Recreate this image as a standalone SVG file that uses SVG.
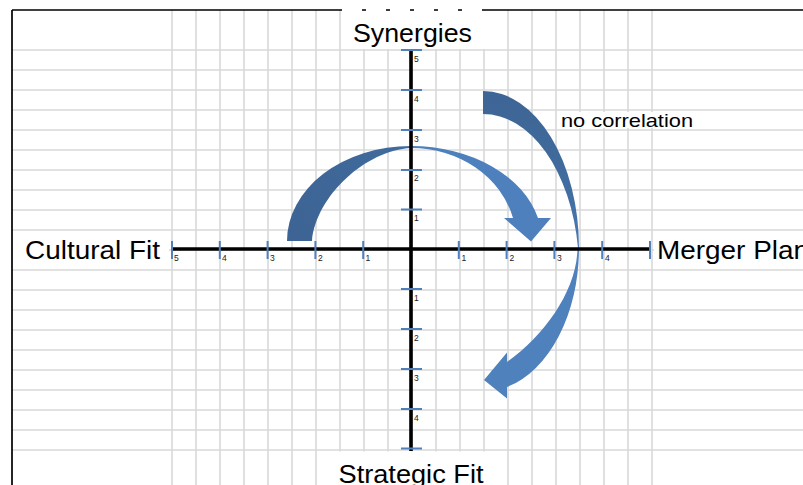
<svg xmlns="http://www.w3.org/2000/svg" width="803" height="485" viewBox="0 0 803 485">
<defs>
<style>
.grid{stroke:#D9D9D9;stroke-width:1.6;fill:none}
.frame{stroke:#000;stroke-width:1.7;fill:none}
.axis{stroke:#000;stroke-width:3.6;fill:none}
.tick{stroke:#4F81BD;stroke-width:2;fill:none}
.num{font-family:"Liberation Sans",Arial,sans-serif;font-size:8.5px;fill:#1a1a1a}
.big{font-family:"Liberation Sans",Arial,sans-serif;font-size:26px;fill:#000}
.small{font-family:"Liberation Sans",Arial,sans-serif;font-size:18.5px;fill:#000}
.mask{fill:#fff}
</style>
<linearGradient id="gA1" gradientUnits="userSpaceOnUse" x1="287" y1="241" x2="411" y2="146">
<stop offset="0" stop-color="#3C6393"/>
<stop offset="1" stop-color="#416B9E"/>
</linearGradient>
<linearGradient id="gA2" gradientUnits="userSpaceOnUse" x1="0" y1="91" x2="0" y2="250">
<stop offset="0" stop-color="#3D6595"/>
<stop offset="0.6" stop-color="#416C9F"/>
<stop offset="1" stop-color="#4A7AB4"/>
</linearGradient>
</defs>
<rect x="0" y="0" width="803" height="485" fill="#fff"/>
<g id="grid">
<path class="grid" d="M12 50H803M12 70H803M12 90H803M12 110H803M12 130H803M12 150H803M12 170H803M12 190H803M12 210H803M12 230H803M12 250H803M12 270H803M12 290H803M12 310H803M12 330H803M12 350H803M12 370H803M12 390H803M12 410H803M12 430H803M12 450H803"/>
<path class="grid" d="M172 10V485M196 10V485M220 10V485M244 10V485M268 10V485M292 10V485M316 10V485M340 10V485M364 10V485M388 10V485M412 10V485M436 10V485M460 10V485M484 10V485M508 10V485M532 10V485M556 10V485M580 10V485M604 10V485M628 10V485M652 10V485"/>
</g>
<g id="label-backgrounds">
<rect class="mask" x="342" y="11" width="163" height="38"/>
<rect class="mask" x="326" y="451.5" width="174" height="34"/>
<rect class="mask" x="13" y="232" width="156" height="36"/>
<rect class="mask" x="654" y="232" width="149" height="36"/>
<rect class="mask" x="557" y="112" width="143" height="16"/>
</g>
<g id="frame">
<path class="frame" d="M12 10V485M12 10H338M486 10H803"/>
<path class="frame" d="M338 10H488" stroke-dasharray="4 20"/>
</g>
<g id="connectors">
<path id="arrow-top-back" d="M287 241A124 95 0 0 1 411 146L411 148C366 150 316 196 312 241Z" fill="url(#gA1)"/>
<path id="arrow-top-front" d="M411 146A131 95 0 0 1 538 218L551 218L531 241.5L504 218L513 218A105 93 0 0 0 411 148Z" fill="#4E80BD"/>
<path id="arrow-right-back" d="M483 91A96 157 0 0 1 579 248L578 248A96 157 0 0 0 483 114Z" fill="url(#gA2)"/>
<path id="arrow-right-front" d="M579 248A96 143.6 0 0 1 507 387L507 398.5L484 380L507 352.5L507 362C545 335 577 290 577.5 248Z" fill="#4F81BD"/>
</g>
<g id="axes">
<path class="axis" d="M172 249H651M411 50V451"/>
<path class="tick" d="M172 241V259M219.8 241V259M267.6 241V259M315.4 241V259M363.2 241V259M458.8 241V259M506.6 241V259M554.4 241V259M602.2 241V259M650 241V259"/>
<path class="tick" d="M401 50H422M401 90H422M401 130H422M401 170H422M401 209.5H422M401 289H422M401 329H422M401 369H422M401 409H422M401 448.5H422"/>
<g id="x-numbers">
<text class="num" x="174" y="261">5</text>
<text class="num" x="222" y="261">4</text>
<text class="num" x="270" y="261">3</text>
<text class="num" x="318" y="261">2</text>
<text class="num" x="365.5" y="261">1</text>
<text class="num" x="461.5" y="261">1</text>
<text class="num" x="509.5" y="261">2</text>
<text class="num" x="557" y="261">3</text>
<text class="num" x="605" y="261">4</text>
</g>
<g id="y-numbers">
<text class="num" x="414" y="61.5">5</text>
<text class="num" x="414" y="101.5">4</text>
<text class="num" x="414" y="141.5">3</text>
<text class="num" x="414" y="181">2</text>
<text class="num" x="414" y="220.5">1</text>
<text class="num" x="414" y="300.5">1</text>
<text class="num" x="414" y="340.5">2</text>
<text class="num" x="414" y="381">3</text>
<text class="num" x="414" y="421">4</text>
</g>
</g>
<g id="synergies"><text class="big" x="353" y="42" textLength="119" lengthAdjust="spacingAndGlyphs">Synergies</text></g>
<g id="cultural-fit"><text class="big" x="25" y="259" textLength="135" lengthAdjust="spacingAndGlyphs">Cultural Fit</text></g>
<g id="merger-plan"><text class="big" x="657" y="258.5" textLength="152" lengthAdjust="spacingAndGlyphs">Merger Plan</text></g>
<g id="strategic-fit"><text class="big" x="338.5" y="483" textLength="145" lengthAdjust="spacingAndGlyphs">Strategic Fit</text></g>
<g id="no-correlation"><text class="small" x="561" y="127" textLength="132" lengthAdjust="spacingAndGlyphs">no correlation</text></g>
</svg>
